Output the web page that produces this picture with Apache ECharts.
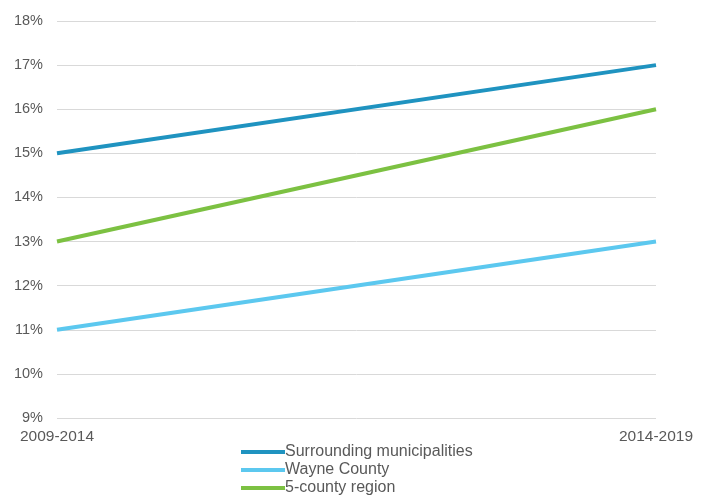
<!DOCTYPE html>
<html><head><meta charset="utf-8">
<script src="https://cdn.jsdelivr.net/npm/echarts@6/dist/echarts.min.js"></script>
<style>html,body{margin:0;padding:0;background:#fff}#c{width:712px;height:503px}</style>
</head><body><div id="c"></div>
<script>
var categories = ['2009-2014', '2014-2019'];
var surrounding = [15, 17];
var wayne = [11, 13];
var fiveCounty = [13, 16];
var seriesNames = ['Surrounding municipalities', 'Wayne County', '5-county region'];
var colors = ['#1f93c0', '#5cc8ef', '#7cc142'];
var font = '"Liberation Sans", Arial, sans-serif';
var chart = echarts.init(document.getElementById('c'));
function mk(name, data, color) {
  return { name: name, type: 'line', data: data, symbol: 'none', lineStyle: { width: 4, color: color }, itemStyle: { color: color } };
}
chart.setOption({
  animation: false,
  grid: { left: 57, right: 56, top: 21, bottom: 85 },
  xAxis: {
    type: 'category', data: categories, boundaryGap: false,
    axisLine: { show: false }, axisTick: { show: false },
    axisLabel: { color: '#595959', fontSize: 15.5, fontFamily: font, margin: 11 }
  },
  yAxis: {
    type: 'value', min: 9, max: 18, interval: 1,
    axisLine: { show: false }, axisTick: { show: false },
    axisLabel: { formatter: '{value}%', color: '#595959', fontSize: 14.5, fontFamily: font, margin: 14 },
    splitLine: { lineStyle: { color: '#d9d9d9', width: 1 } }
  },
  legend: {
    orient: 'vertical', left: 236, top: 439, itemGap: 2,
    itemWidth: 44, itemHeight: 4, icon: 'rect',
    textStyle: { color: '#595959', fontSize: 16, fontFamily: font, padding: [0, 0, 0, -5], lineHeight: 15 },
    data: seriesNames
  },
  series: [
    mk(seriesNames[0], surrounding, colors[0]),
    mk(seriesNames[1], wayne, colors[1]),
    mk(seriesNames[2], fiveCounty, colors[2])
  ]
});
</script></body></html>
